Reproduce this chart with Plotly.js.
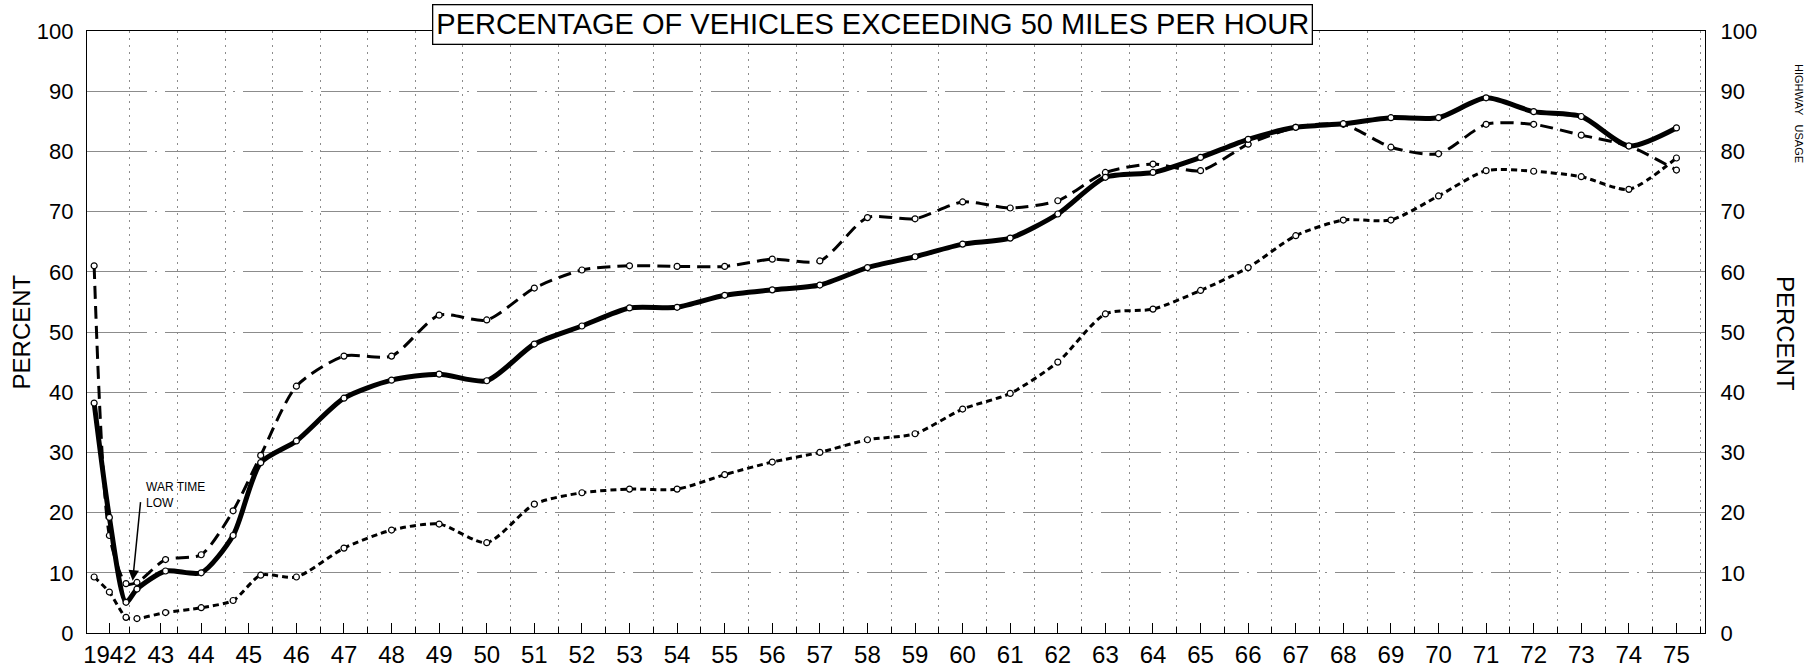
<!DOCTYPE html>
<html>
<head>
<meta charset="utf-8">
<script src="https://cdn.plot.ly/plotly-3.0.1.min.js"></script>
<style>html,body{margin:0;padding:0;background:#fff;}#chart{width:1810px;height:669px;}</style>
</head>
<body>
<div id="chart"></div>
<script>
// Time positions (years; early war-time readings are sub-annual)
const years = [1941.75, 1942.07, 1942.42, 1942.65, 1943.25, 1944.0, 1944.67, 1945.25,
  1946, 1947, 1948, 1949, 1950, 1951, 1952, 1953, 1954, 1955, 1956, 1957, 1958, 1959,
  1960, 1961, 1962, 1963, 1964, 1965, 1966, 1967, 1968, 1969, 1970, 1971, 1972, 1973, 1974, 1975];

// Solid heavy line
const seriesSolid = [38.2, 19.2, 5.1, 7.3, 10.3, 10.0, 16.2, 28.3,
  31.9, 39.0, 42.0, 43.0, 41.9, 48.0, 51.0, 54.0, 54.1, 56.1, 57.0, 57.8, 60.7, 62.5,
  64.6, 65.6, 69.6, 75.7, 76.5, 79.0, 82.0, 84.0, 84.6, 85.6, 85.6, 88.9, 86.6, 85.8, 80.9, 83.9];

// Long-dash line
const seriesLongDash = [61.0, 16.2, 8.2, 8.4, 12.2, 13.0, 20.3, 29.5,
  41.0, 46.0, 46.0, 52.8, 52.0, 57.3, 60.3, 61.0, 60.9, 60.9, 62.1, 61.8, 69.0, 68.8,
  71.6, 70.6, 71.8, 76.5, 77.9, 76.8, 81.2, 84.0, 84.5, 80.7, 79.6, 84.5, 84.5, 82.7, 80.9, 76.9];

// Short-dash line
const seriesShortDash = [9.3, 6.8, 2.6, 2.4, 3.4, 4.2, 5.4, 9.6,
  9.3, 14.1, 17.1, 18.1, 15.0, 21.4, 23.3, 23.9, 23.9, 26.3, 28.4, 30.0, 32.1, 33.1,
  37.2, 39.8, 45.0, 53.0, 53.8, 56.9, 60.7, 66.0, 68.6, 68.6, 72.6, 76.8, 76.7, 75.8, 73.7, 78.9];

const xTickVals = [1942.08, 1943.15, 1944, 1945, 1946, 1947, 1948, 1949, 1950, 1951, 1952, 1953,
  1954, 1955, 1956, 1957, 1958, 1959, 1960, 1961, 1962, 1963, 1964, 1965, 1966, 1967, 1968,
  1969, 1970, 1971, 1972, 1973, 1974, 1975];
const xTickText = ['1942', '43', '44', '45', '46', '47', '48', '49', '50', '51', '52', '53',
  '54', '55', '56', '57', '58', '59', '60', '61', '62', '63', '64', '65', '66', '67', '68',
  '69', '70', '71', '72', '73', '74', '75'];
const yTickVals = [0, 10, 20, 30, 40, 50, 60, 70, 80, 90, 100];

const titleText = 'PERCENTAGE OF VEHICLES EXCEEDING 50 MILES PER HOUR';
const FONT = 'Liberation Sans, Arial, sans-serif';

const markerStyle = {symbol: 'circle', size: 6, color: '#ffffff', line: {color: '#000', width: 1.2}};

const traces = [
  {x: years, y: seriesShortDash, mode: 'lines+markers', name: 'short dash',
   line: {color: '#000', width: 3, dash: '6px,4px', shape: 'spline', smoothing: 0.7},
   marker: markerStyle, showlegend: false, hoverinfo: 'x+y'},
  {x: years, y: seriesLongDash, mode: 'lines+markers', name: 'long dash',
   line: {color: '#000', width: 3, dash: '13px,7px', shape: 'spline', smoothing: 0.7},
   marker: markerStyle, showlegend: false, hoverinfo: 'x+y'},
  {x: years, y: seriesSolid, mode: 'lines+markers', name: 'solid',
   line: {color: '#000', width: 5, shape: 'spline', smoothing: 0.7},
   marker: markerStyle, showlegend: false, hoverinfo: 'x+y'},
  {x: [null], y: [null], yaxis: 'y2', mode: 'lines', showlegend: false, hoverinfo: 'skip'}
];

const gridCol = '#8c8c8c';
const layout = {
  width: 1810, height: 669,
  margin: {l: 87, r: 105, t: 31, b: 36},
  paper_bgcolor: '#fff', plot_bgcolor: '#fff',
  font: {family: FONT, color: '#000'},
  showlegend: false,
  xaxis: {
    range: [1941.6, 1975.6], tickmode: 'array', tickvals: xTickVals, ticktext: xTickText,
    tickfont: {size: 24, family: FONT, color: '#000'},
    ticks: 'inside', ticklen: 10, tickcolor: '#000', tickwidth: 1,
    ticklabelstandoff: 0,
    showgrid: false, zeroline: false,
    showline: true, linecolor: '#000', linewidth: 1.2, mirror: true,
    minor: {tickmode: 'linear', tick0: 1942.5, dtick: 1, showgrid: true,
            gridcolor: gridCol, griddash: '2px,5px', gridwidth: 1,
            ticks: 'inside', ticklen: 6, tickcolor: '#000'}
  },
  yaxis: {
    range: [0, 100], tickmode: 'array', tickvals: yTickVals,
    tickfont: {size: 22, family: FONT, color: '#000'},
    ticks: '', ticklabelstandoff: 8,
    showgrid: true, gridcolor: gridCol, griddash: '60px,8px,2px,8px', gridwidth: 1,
    zeroline: false, showline: true, linecolor: '#000', linewidth: 1.2
  },
  yaxis2: {
    range: [0, 100], tickmode: 'array', tickvals: yTickVals, overlaying: 'y', side: 'right',
    tickfont: {size: 22, family: FONT, color: '#000'},
    ticks: '', ticklabelstandoff: 10,
    showgrid: false, zeroline: false, showline: true, linecolor: '#000', linewidth: 1.2
  },
  annotations: [
    {xref: 'paper', yref: 'paper', x: 0.4853, y: 1.0108, xanchor: 'center', yanchor: 'middle',
     text: titleText, showarrow: false, font: {size: 29, family: FONT, color: '#000'},
     bgcolor: '#fff', bordercolor: '#000', borderwidth: 1.3, borderpad: 3},
    {xref: 'paper', yref: 'paper', x: -0.0405, y: 0.5, xanchor: 'center', yanchor: 'middle',
     text: 'PERCENT', textangle: -90, showarrow: false, font: {size: 24, family: FONT, color: '#000'}},
    {xref: 'paper', yref: 'paper', x: 1.0494, y: 0.497, xanchor: 'center', yanchor: 'middle',
     text: 'PERCENT', textangle: 90, showarrow: false, font: {size: 24, family: FONT, color: '#000'}},
    {xref: 'paper', yref: 'paper', x: 1.0581, y: 0.8637, xanchor: 'center', yanchor: 'middle',
     text: 'HIGHWAY\u00a0\u00a0\u00a0USAGE', textangle: 90, showarrow: false,
     font: {size: 11, family: FONT, color: '#000'}},
    {xref: 'x', yref: 'y', x: 1942.8, y: 25.8, xanchor: 'left', yanchor: 'top', align: 'left',
     text: 'WAR TIME<br>LOW', showarrow: false, font: {size: 12, family: FONT, color: '#000'}},
    {xref: 'x', yref: 'y', x: 1942.56, y: 8.7, text: '', showarrow: true,
     ax: 8, ay: -80, arrowhead: 2, arrowsize: 1.4, arrowwidth: 1.5, arrowcolor: '#000'}
  ]
};

Plotly.newPlot('chart', traces, layout, {staticPlot: true, displayModeBar: false});
</script>
</body>
</html>
